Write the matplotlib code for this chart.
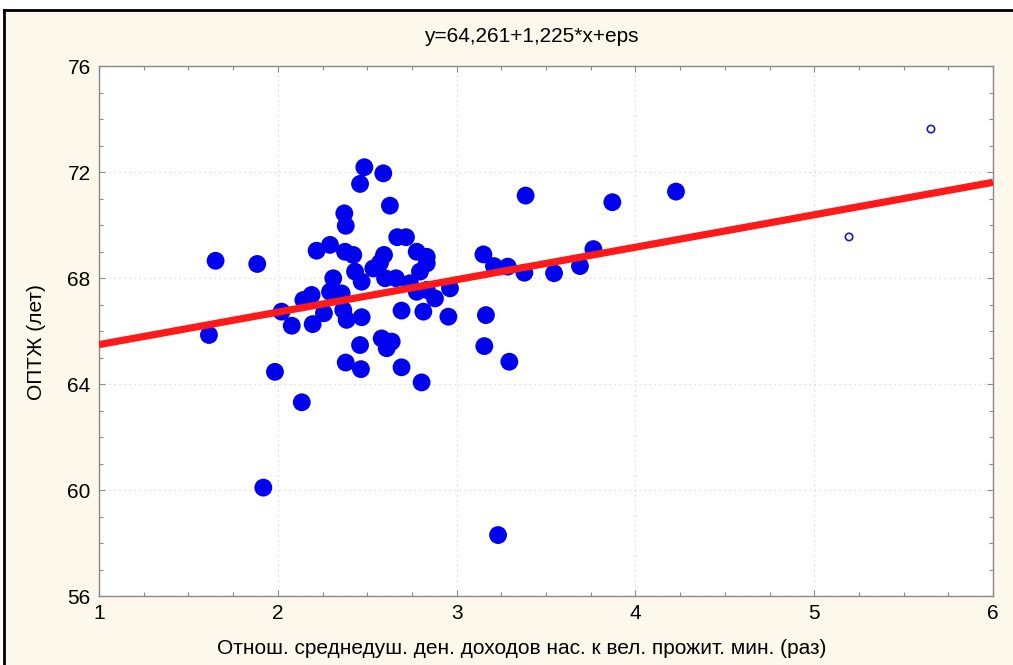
"""Scatter of life expectancy vs. income-to-subsistence ratio with linear fit."""
import matplotlib
matplotlib.use("Agg")
import matplotlib.pyplot as plt
from matplotlib.lines import Line2D
from matplotlib.ticker import MultipleLocator

plt.rcParams["font.family"] = ["Liberation Sans", "DejaVu Sans"]

# regions (filled markers)
income_ratio = [
    1.615, 1.652, 1.885, 1.919, 1.984, 2.021, 2.078, 2.134, 2.143, 2.189,
    2.195, 2.217, 2.258, 2.292, 2.292, 2.310, 2.357, 2.366, 2.372, 2.376,
    2.380, 2.380, 2.385, 2.422, 2.432, 2.460, 2.460, 2.465, 2.469, 2.469,
    2.484, 2.534, 2.572, 2.581, 2.590, 2.594, 2.600, 2.609, 2.627, 2.637,
    2.661, 2.668, 2.692, 2.692, 2.717, 2.739, 2.777, 2.777, 2.795, 2.804,
    2.814, 2.833, 2.833, 2.833, 2.879, 2.954, 2.963, 3.150, 3.155, 3.164,
    3.209, 3.232, 3.286, 3.295, 3.379, 3.386, 3.545, 3.690, 3.765, 3.871,
    4.227,
]
life_exp = [
    65.85, 68.65, 68.53, 60.09, 64.46, 66.73, 66.20, 63.31, 67.17, 67.36,
    66.26, 69.03, 66.67, 69.25, 67.48, 67.99, 67.42, 66.79, 70.44, 68.99,
    69.97, 64.81, 66.42, 68.87, 68.24, 71.55, 65.47, 64.56, 67.86, 66.52,
    72.18, 68.36, 68.58, 65.72, 71.95, 68.87, 67.99, 65.35, 70.73, 65.60,
    67.99, 69.54, 66.77, 64.63, 69.54, 67.80, 68.99, 67.48, 68.24, 64.06,
    66.73, 68.80, 68.55, 67.55, 67.23, 66.54, 67.61, 68.89, 65.43, 66.60,
    68.45, 58.30, 68.43, 64.84, 68.20, 71.11, 68.18, 68.45, 69.09, 70.86,
    71.26,
]
# excluded points (hollow markers)
out_ratio = [5.195, 5.653]
out_life = [69.55, 73.62]

intercept, slope = 64.261, 1.225
x_ticks = [1, 2, 3, 4, 5, 6]
y_ticks = [56, 60, 64, 68, 72, 76]

BG = "#FCF8EC"
FS = 15
fig = plt.figure(figsize=(10.13, 6.65), dpi=100, facecolor=BG)
ax = fig.add_axes([99 / 1013, 69 / 665, 894 / 1013, 530 / 665])
ax.set_facecolor("white")

ax.set_xlim(1, 6)
ax.set_ylim(56, 76)
ax.set_xticks(x_ticks)
ax.set_yticks(y_ticks)
ax.xaxis.set_minor_locator(MultipleLocator(0.25))
ax.yaxis.set_minor_locator(MultipleLocator(1))
ax.tick_params(which="both", direction="in", top=True, right=True,
               color="#8a8a8a", width=0.8)
ax.tick_params(which="major", length=4, labelsize=FS, pad=6)
ax.tick_params(which="minor", length=3)
for s in ax.spines.values():
    s.set_color("#8a8a8a")
    s.set_linewidth(1.0)

ax.grid(True, which="major", linestyle=(0, (1, 3)), color="#d2d2d2", lw=0.9)
ax.set_axisbelow(True)

ax.scatter(income_ratio, life_exp, s=165, color="#0000F0", edgecolors="none",
           zorder=3)
ax.scatter(out_ratio, out_life, s=28, facecolors="none",
           edgecolors="#1a1aC0", linewidths=1.2, zorder=3)

xl = [1, 6]
ax.plot(xl, [intercept + slope * v for v in xl], color="#FF1A1A", lw=5.2,
        solid_capstyle="butt", zorder=4, clip_on=True)

fig.text(531 / 1013, 1 - 36 / 665, "y=64,261+1,225*x+eps", ha="center",
         va="center", fontsize=FS)
fig.text(522 / 1013, 1 - 648 / 665,
         "Отнош. среднедуш. ден. доходов нас. к вел. прожит. мин. (раз)",
         ha="center", va="center", fontsize=FS)
fig.text(36 / 1013, 1 - 342 / 665, "ОПТЖ (лет)", rotation=90, ha="center",
         va="center", fontsize=FS)

# outer frame of the exported graph window
fig.add_artist(Line2D([4 / 1013, 4 / 1013], [0, 1 - 10 / 665],
                      transform=fig.transFigure, color="black", lw=2))
fig.add_artist(Line2D([4 / 1013, 1], [1 - 10 / 665, 1 - 10 / 665],
                      transform=fig.transFigure, color="black", lw=2))
fig.patches.append(matplotlib.patches.Rectangle(
    (0, 1 - 10 / 665), 1, 10 / 665, transform=fig.transFigure,
    facecolor="white", edgecolor="none", zorder=-1))
fig.patches.append(matplotlib.patches.Rectangle(
    (0, 0), 4 / 1013, 1, transform=fig.transFigure,
    facecolor="white", edgecolor="none", zorder=-1))

fig.savefig("out.png", dpi=100, facecolor=BG)
